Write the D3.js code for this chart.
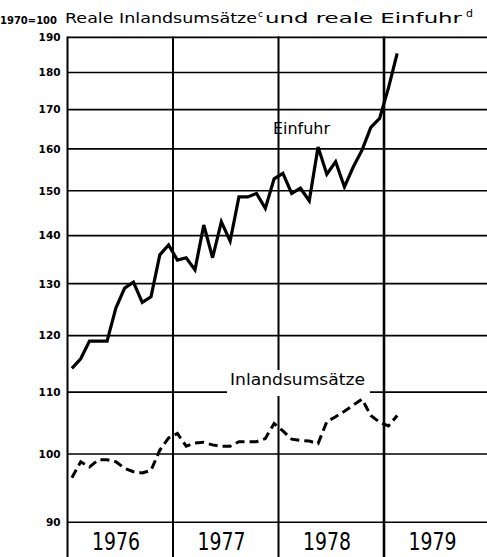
<!DOCTYPE html>
<html>
<head>
<meta charset="utf-8">
<script src="https://cdn.jsdelivr.net/npm/d3@7"></script>
<style>
  body { margin: 0; background: #fff; }
  svg { display: block; }
  text { font-family: "DejaVu Sans", sans-serif; fill: #000; }
</style>
</head>
<body>
<div id="chart-container"></div>
<script>
// Monthly values, Jan 1976 - Feb 1979 (1970 = 100)
const years = ["1976", "1977", "1978", "1979"];
const yTicks = [90, 100, 110, 120, 130, 140, 150, 160, 170, 180, 190];
const einfuhr = [114.1, 115.8, 119.0, 119.0, 119.0, 125.2, 129.1, 130.3, 126.3, 127.4, 135.9, 138.0,
    134.8, 135.3, 132.8, 142.3, 135.3, 143.0, 138.8, 148.6, 148.6, 149.4, 146.0, 152.8,
    154.1, 149.4, 150.6, 147.7, 160.5, 153.9, 156.9, 150.9, 155.6, 159.7, 165.4, 167.7,
    175.7, 185.4];
const inland = [96.4, 98.8, 98.0, 99.1, 99.1, 98.8, 97.8, 97.3, 97.1, 97.5, 100.6, 102.5,
    103.2, 101.2, 101.7, 101.8, 101.4, 101.2, 101.2, 101.9, 101.9, 101.9, 102.4, 104.8,
    103.6, 102.3, 102.1, 102.0, 101.6, 105.1, 105.9, 106.8, 107.8, 108.8, 106.1, 105.0,
    104.4, 106.1];

const chartWidth = 487;
const chartHeight = 557;
const plotLeft = 67.5;
const plotTop = 37.4;
const plotBottom = 522.3;

// x: months since Jan 1976
const x = d3.scaleLinear()
    .domain([0, 48])
    .range([plotLeft, plotLeft + 4 * 105.5]);

// y: logarithmic index scale
const y = d3.scaleLog()
    .domain([90, 190])
    .range([plotBottom, plotTop]);

const chart = d3.select("#chart-container").append("svg")
    .attr("width", chartWidth)
    .attr("height", chartHeight);

// title
chart.append("text")
    .attr("x", 0).attr("y", 24)
    .attr("font-size", 10).attr("font-weight", "bold")
    .attr("textLength", 57).attr("lengthAdjust", "spacingAndGlyphs")
    .text("1970=100");
chart.append("text")
    .attr("x", 65).attr("y", 23)
    .attr("font-size", 13.5)
    .attr("textLength", 192).attr("lengthAdjust", "spacingAndGlyphs")
    .text("Reale Inlandsumsätze");
chart.append("text")
    .attr("x", 258).attr("y", 17)
    .attr("font-size", 9)
    .text("c");
chart.append("text")
    .attr("x", 265).attr("y", 23)
    .attr("font-size", 13.5)
    .attr("textLength", 197).attr("lengthAdjust", "spacingAndGlyphs")
    .text("und reale Einfuhr");
chart.append("text")
    .attr("x", 466).attr("y", 17)
    .attr("font-size", 11)
    .text("d");

// horizontal grid
chart.append("g")
    .selectAll("line")
    .data(yTicks)
    .join("line")
    .attr("x1", plotLeft)
    .attr("x2", chartWidth)
    .attr("y1", d => y(d))
    .attr("y2", d => y(d))
    .attr("stroke", "#000")
    .attr("stroke-width", 1.6);

// vertical year separators (run down through the year labels)
chart.append("g")
    .selectAll("line")
    .data(d3.range(0, 4))
    .join("line")
    .attr("x1", d => x(d * 12))
    .attr("x2", d => x(d * 12))
    .attr("y1", plotTop - 1)
    .attr("y2", chartHeight)
    .attr("stroke", "#000")
    .attr("stroke-width", d => d === 3 ? 2.6 : 2);

// y-axis labels
const yAxis = chart.append("g")
    .attr("transform", `translate(${plotLeft}, 0)`)
    .call(d3.axisLeft(y).tickValues(yTicks).tickFormat(d3.format("d")).tickSize(0).tickPadding(7));
yAxis.select(".domain").remove();
yAxis.selectAll("text")
    .attr("font-family", "DejaVu Sans")
    .attr("font-size", 10.5)
    .attr("font-weight", "bold");

// year labels
chart.append("g")
    .selectAll("text")
    .data(years)
    .join("text")
    .attr("x", (d, i) => x(i * 12) + 48.5)
    .attr("y", 550)
    .attr("text-anchor", "middle")
    .attr("font-family", "'Liberation Sans Narrow', 'DejaVu Sans Condensed', sans-serif")
    .attr("font-size", 25)
    .attr("textLength", 48)
    .attr("lengthAdjust", "spacingAndGlyphs")
    .text(d => d);

const line = d3.line()
    .x((d, i) => x(i + 0.5))
    .y(d => y(d));

// Inlandsumsätze label, with white box cutting the 110 line
chart.append("rect")
    .attr("x", 227).attr("y", 370)
    .attr("width", 143).attr("height", 26)
    .attr("fill", "#fff");
chart.append("text")
    .attr("x", 230).attr("y", 385)
    .attr("font-size", 16)
    .attr("textLength", 135).attr("lengthAdjust", "spacingAndGlyphs")
    .text("Inlandsumsätze");

chart.append("text")
    .attr("x", 273).attr("y", 134)
    .attr("font-size", 16)
    .attr("textLength", 57).attr("lengthAdjust", "spacingAndGlyphs")
    .text("Einfuhr");

chart.append("path")
    .datum(inland)
    .attr("fill", "none")
    .attr("stroke", "#000")
    .attr("stroke-width", 3)
    .attr("stroke-dasharray", "9,5")
    .attr("d", line);

chart.append("path")
    .datum(einfuhr)
    .attr("fill", "none")
    .attr("stroke", "#000")
    .attr("stroke-width", 3.2)
    .attr("stroke-linejoin", "miter")
    .attr("d", line);
</script>
</body>
</html>
